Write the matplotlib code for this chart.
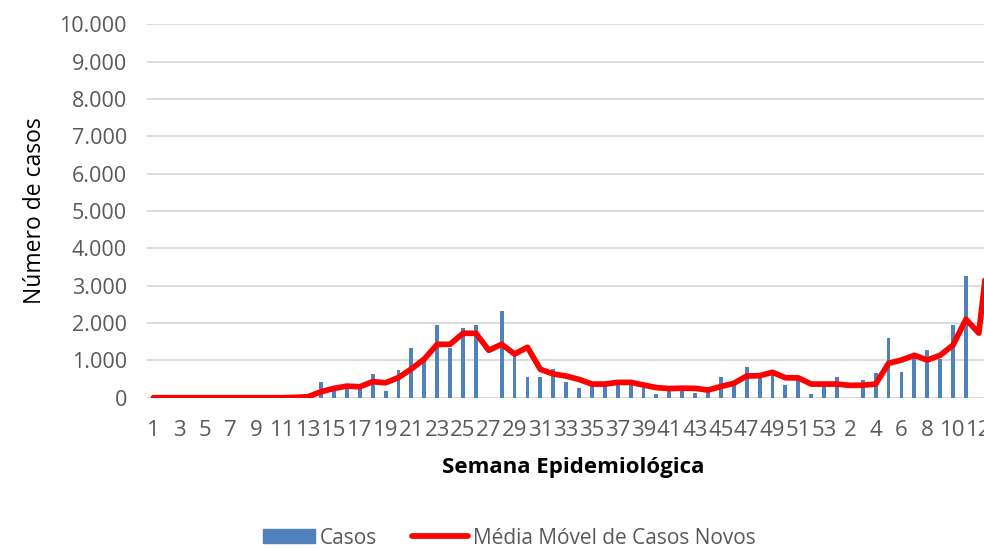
import matplotlib
matplotlib.use("Agg")
import matplotlib.pyplot as plt
from matplotlib.patches import Rectangle
from matplotlib.lines import Line2D
from matplotlib.ticker import FuncFormatter, MultipleLocator
import numpy as np

plt.rcParams['font.family'] = ['Open Sans', 'DejaVu Sans']

# Epidemiological weeks: 1..53 (year 1) then 1..13 (year 2)
weeks = list(range(1, 54)) + list(range(1, 14))

# Weekly cases (None = no bar)
casos = [0, 0, 0, 0, 0, 0, 0, 0, 0, 0,
         0, 20, 60, 410, 270, 250, 300, 630, 174, 755,
         1330, 1020, 1935, 1335, 1870, 1935, None, 2310, 1150, 560,
         550, 770, 420, 270, 405, 420, 405, 380, 250, 90,
         300, 290, 115, 210, 560, 385, 810, 575, 650, 340,
         550, 110, 420, 550, None, 480, 650, 1590, 680, 1135,
         1265, 1050, 1940, 3255, None, None]

# Moving average of new cases
media_movel = [0, 0, 0, 0, 0, 0, 0, 0, 0, 0,
               0, 8, 27, 160, 250, 310, 292, 430, 400, 540,
               770, 1035, 1430, 1430, 1725, 1725, 1270, 1430, 1170, 1350,
               760, 635, 580, 490, 365, 365, 410, 410, 340, 270,
               245, 255, 250, 205, 300, 385, 580, 590, 680, 535,
               530, 365, 365, 365, 330, 335, 365, 920, 1010, 1135,
               1010, 1135, 1410, 2100, 1730, 4700]

fig = plt.figure(figsize=(9.84, 5.49), dpi=100)
W, H = 984, 549
ax = fig.add_axes([147 / W, 1 - 397.7 / H, 1 - 147 / W, (397.7 - 24.4) / H])

x = np.arange(1, len(weeks) + 1)
bar_vals = np.array([np.nan if v is None else v for v in casos], dtype=float)
ax.bar(x, np.nan_to_num(bar_vals), width=0.3, color='#4F81BD', zorder=2)
ax.plot(x, media_movel, color='#FF0000', lw=4.1, solid_joinstyle='round',
        solid_capstyle='round', zorder=3, clip_on=True)

ax.set_xlim(0.5, 65.4)
ax.set_ylim(0, 10000)
ax.yaxis.set_major_locator(MultipleLocator(1000))
ax.yaxis.set_major_formatter(FuncFormatter(lambda v, p: f"{int(v):,}".replace(",", ".")))
ax.grid(axis='y', color='#D9D9D9', lw=1.3, zorder=0)
ax.set_axisbelow(True)
for s in ['top', 'right', 'left', 'bottom']:
    ax.spines[s].set_visible(False)

ax.set_xticks(x[::2])
ax.set_xticklabels([str(w) for w in weeks[::2]])
ax.tick_params(axis='both', length=0, labelcolor='#595959')
ax.tick_params(axis='y', pad=14.4, labelsize=15.5)
ax.tick_params(axis='x', pad=16, labelsize=16)

fig.text(35 / W, 1 - 211 / H, 'Número de casos', rotation=90, ha='center', va='center',
         fontsize=16.5, color='#000000')
fig.text(573 / W, 1 - 467 / H, 'Semana Epidemiológica', ha='center', va='center',
         fontsize=16, fontweight='bold', color='#000000')

# Legend
ly = 3  # small upward shift so the legend text stays inside the canvas
fig.patches.append(Rectangle((262.7 / W, 1 - (545.7 - ly) / H), 52.3 / W, 13.4 / H,
                             transform=fig.transFigure, color='#4F81BD'))
fig.text(320 / W, 1 - (546.5 - ly) / H, 'Casos', ha='left', va='baseline', fontsize=15,
         color='#595959')
fig.lines.append(Line2D([411.7 / W, 468.3 / W], [1 - (539 - ly) / H, 1 - (539 - ly) / H],
                        transform=fig.transFigure, color='#FF0000', lw=4.1,
                        solid_capstyle='round'))
fig.text(472.7 / W, 1 - (546.5 - ly) / H, 'Média Móvel de Casos Novos', ha='left',
         va='baseline', fontsize=15, color='#595959')

fig.savefig('out.png', dpi=100)
